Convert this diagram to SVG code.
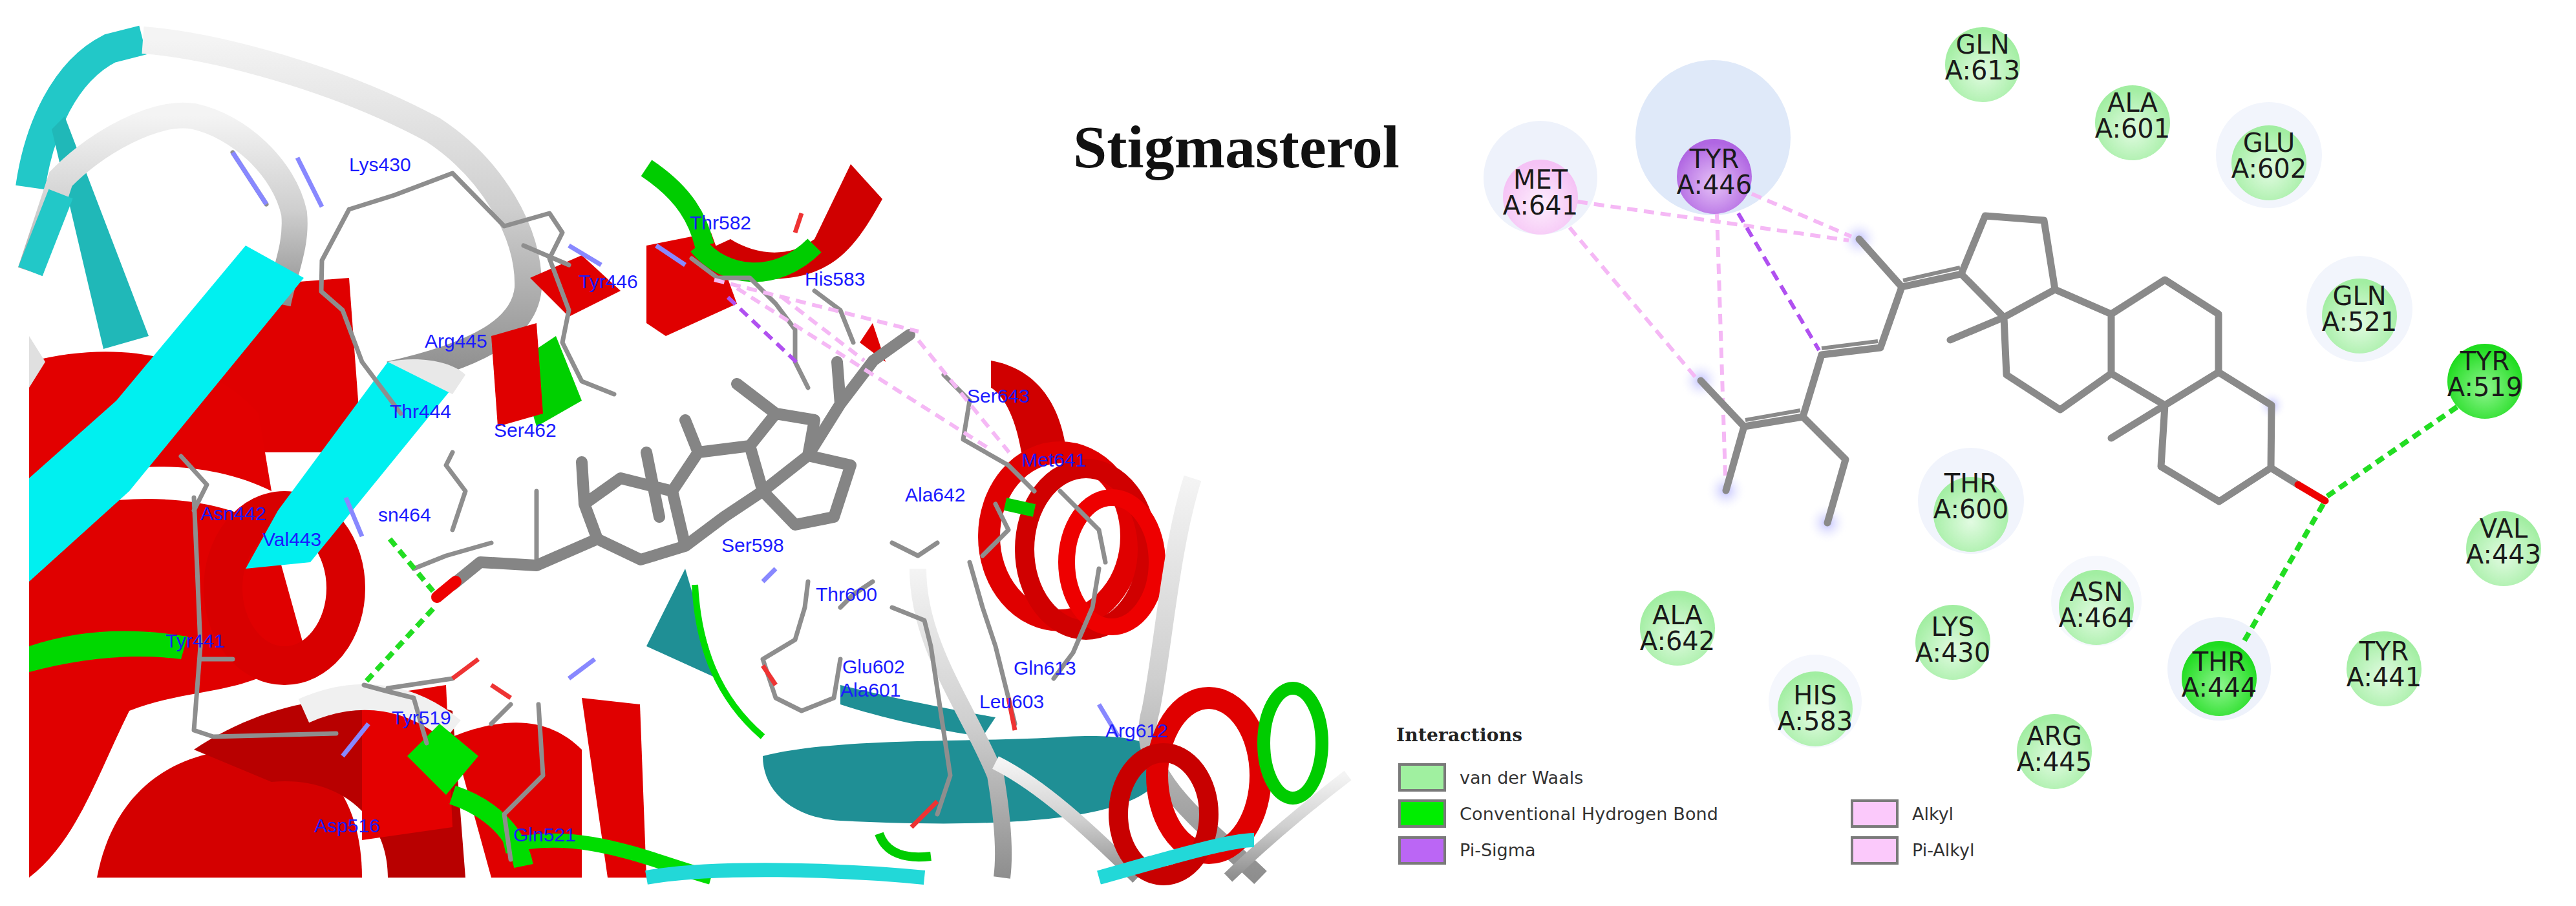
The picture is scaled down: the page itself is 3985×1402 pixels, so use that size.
<svg xmlns="http://www.w3.org/2000/svg" width="3985" height="1402" viewBox="0 0 3985 1402">
<defs>
<radialGradient id="gv" cx="50%" cy="60%" r="55%"><stop offset="0" stop-color="#e2fbe2"/><stop offset="1" stop-color="#a2eea2"/></radialGradient>
<radialGradient id="gh" cx="50%" cy="60%" r="55%"><stop offset="0" stop-color="#8ff58f"/><stop offset="1" stop-color="#1fdc1f"/></radialGradient>
<radialGradient id="gp" cx="50%" cy="60%" r="55%"><stop offset="0" stop-color="#e6c2f7"/><stop offset="1" stop-color="#b066e2"/></radialGradient>
<radialGradient id="gk" cx="50%" cy="60%" r="55%"><stop offset="0" stop-color="#fdeefd"/><stop offset="1" stop-color="#f5c2f5"/></radialGradient>
<radialGradient id="glow"><stop offset="0" stop-color="#b8b8ff" stop-opacity="0.9"/><stop offset="1" stop-color="#ffffff" stop-opacity="0"/></radialGradient>
<linearGradient id="wt" x1="0" y1="0" x2="0" y2="1"><stop offset="0" stop-color="#f4f4f4"/><stop offset="0.5" stop-color="#cfcfcf"/><stop offset="1" stop-color="#8e8e8e"/></linearGradient>
<style>
.res text{font-family:"DejaVu Sans",Verdana,sans-serif;font-size:40px;fill:#1a1a1a;text-anchor:middle}
.lab{font-family:"Liberation Sans",Arial,sans-serif;font-size:30px;fill:#1a1aff}
.bond{stroke:#8a8a8a;stroke-width:11;stroke-linecap:round;stroke-linejoin:round;fill:none}
.stk{stroke:#858585;stroke-width:18;stroke-linecap:round;stroke-linejoin:round;fill:none}
.thin{stroke:#8e8e8e;stroke-width:7;stroke-linecap:round;stroke-linejoin:round;fill:none}
.cy{fill:#00f0f0}
.alk{stroke:#f5b8f5;stroke-width:6;stroke-dasharray:16 10;fill:none}
.pis{stroke:#b050f0;stroke-width:6;stroke-dasharray:16 10;fill:none}
.hb{stroke:#22dd22;stroke-width:8;stroke-dasharray:14 9;fill:none}
.leg{font-family:"DejaVu Sans",Tahoma,sans-serif;font-size:27px;fill:#333}
.sw{stroke:#7a7a7a;stroke-width:4}
</style>
</defs>
<rect width="3985" height="1402" fill="#ffffff"/>

<g id="protein-3d">
<path d="M335,446 L540,430 L560,700 L330,700 Z" fill="#e00000"/>
<path d="M45,560 C200,520 330,560 400,640 L420,760 C300,700 150,720 45,760 Z" fill="#e20000"/>
<path d="M45,800 C180,760 330,760 420,820 L470,1000 C400,1080 300,1060 200,1100 C150,1200 120,1300 45,1358 Z" fill="#e00000"/>
<ellipse cx="440" cy="910" rx="95" ry="120" fill="none" stroke="#d80000" stroke-width="60"/>
<path d="M150,1358 C180,1200 300,1150 420,1160 C520,1170 560,1260 560,1358 Z" fill="#d40000"/>
<path d="M300,1160 C420,1080 560,1060 700,1100 L720,1358 L600,1358 C600,1260 520,1200 420,1210 Z" fill="#b80000"/>
<path d="M560,1080 L690,1060 L700,1280 L560,1300 Z" fill="#e40000"/>
<path d="M700,1140 C800,1100 860,1120 900,1160 L900,1358 L760,1358 Z" fill="#e00000"/>
<path d="M900,1080 L990,1090 L1000,1358 L940,1358 Z" fill="#e00000"/>
<path d="M470,1100 C560,1060 640,1080 700,1130" stroke="#f0f0f0" stroke-width="40" fill="none"/>
<path d="M630,1170 L690,1230 L740,1170 L680,1120 Z" fill="#00e000"/>
<path d="M700,1230 C760,1250 800,1290 810,1340" stroke="#00dd00" stroke-width="30" fill="none"/>
<path d="M45,1000 C120,975 200,970 290,985 L280,1020 C200,1010 120,1020 45,1040 Z" fill="#00d800"/>
<path d="M780,1310 C900,1280 1000,1330 1100,1358" stroke="#00dd00" stroke-width="22" fill="none"/>
<path d="M47,290 C60,200 100,110 170,75 L221,62" stroke="#22c8c8" stroke-width="46" fill="none"/>
<path d="M100,180 L80,200 L160,540 L230,520 Z" fill="#20b8b8"/>
<path d="M221,62 C330,70 520,120 670,201 C760,260 820,360 817,446 C812,500 760,545 603,580" stroke="url(#wt)" stroke-width="42" fill="none"/>
<path d="M47,420 L94,277 C150,220 240,170 300,180 C370,195 440,260 455,330 C460,380 440,420 430,470" stroke="url(#wt)" stroke-width="40" fill="none"/>
<path d="M47,420 L94,300" stroke="#22c8c8" stroke-width="40"/>
<path d="M380,380 L470,430 L200,760 L45,900 L45,740 L180,620 Z" class="cy"/>
<path d="M600,560 L700,600 L480,870 L380,880 L430,790 Z" class="cy"/>
<path d="M45,600 L70,560 L45,520 Z" fill="#e0e0e0"/>
<path d="M600,560 C650,550 700,560 720,580 L700,610 Z" fill="#e8e8e8"/>
<path d="M1000,380 L1100,360 L1140,470 L1030,520 L1000,500 Z" fill="#e00000"/>
<path d="M1316,254 L1365,308 C1330,370 1300,420 1220,430 C1160,438 1120,420 1091,388 L1130,370 C1170,395 1220,400 1260,370 Z" fill="#d00000"/>
<path d="M1080,380 C1120,430 1200,440 1260,380" stroke="#00cc00" stroke-width="30" fill="none"/>
<path d="M1000,260 C1060,300 1080,340 1090,380" stroke="#00cc00" stroke-width="30" fill="none"/>
<path d="M820,430 L900,395 L960,450 L880,490 Z" fill="#e00000"/>
<path d="M800,560 L860,520 L900,620 L830,660 Z" fill="#00d000"/>
<path d="M760,520 L830,500 L840,640 L770,660 Z" fill="#e00000"/>
<path d="M1533,558 C1600,570 1640,620 1650,700 L1580,700 C1570,640 1550,610 1533,600 Z" fill="#d00000"/>
<path d="M1330,530 L1350,500 L1370,560 Z" fill="#e00000"/>
<ellipse cx="1640" cy="830" rx="110" ry="130" fill="none" stroke="#e00000" stroke-width="34"/>
<ellipse cx="1680" cy="850" rx="95" ry="125" fill="none" stroke="#d00000" stroke-width="30"/>
<ellipse cx="1720" cy="870" rx="70" ry="100" fill="none" stroke="#ee0000" stroke-width="26"/>
<path d="M1555,780 L1600,790" stroke="#00cc00" stroke-width="20"/>
<path d="M1180,1170 C1300,1140 1500,1150 1650,1140 C1760,1135 1800,1150 1800,1190 C1780,1280 1500,1280 1300,1270 C1220,1265 1180,1220 1180,1170 Z" fill="#1f8f95"/>
<path d="M1300,1060 C1380,1080 1480,1100 1540,1110 L1520,1140 C1450,1130 1360,1110 1300,1090 Z" fill="#1f8f95"/>
<path d="M1000,1000 L1060,880 L1110,1050 Z" fill="#1f8f95"/>
<path d="M1075,905 C1080,1000 1110,1080 1180,1140" stroke="#00dd00" stroke-width="10" fill="none"/>
<path d="M1845,740 C1810,850 1800,1000 1780,1100 C1750,1200 1870,1280 1950,1358" stroke="url(#wt)" stroke-width="28" fill="none"/>
<path d="M1420,880 C1420,1000 1500,1100 1540,1200 C1550,1260 1555,1320 1550,1358" stroke="url(#wt)" stroke-width="26" fill="none"/>
<path d="M1540,1180 C1620,1220 1700,1300 1760,1358" stroke="url(#wt)" stroke-width="22" fill="none"/>
<ellipse cx="1870" cy="1200" rx="80" ry="120" fill="none" stroke="#e00000" stroke-width="34"/>
<ellipse cx="1800" cy="1260" rx="70" ry="95" fill="none" stroke="#c80000" stroke-width="30"/>
<ellipse cx="2000" cy="1150" rx="45" ry="85" fill="none" stroke="#00cc00" stroke-width="20"/>
<path d="M1900,1358 C1960,1300 2020,1250 2085,1200" stroke="url(#wt)" stroke-width="18" fill="none"/>
<path d="M1700,1358 C1800,1330 1900,1300 1940,1300" stroke="#22d8d8" stroke-width="22" fill="none"/>
<path d="M1000,1358 C1100,1340 1300,1345 1430,1358" stroke="#22d8d8" stroke-width="22" fill="none"/>
<path d="M1360,1290 C1370,1320 1400,1330 1440,1325" stroke="#00cc00" stroke-width="14" fill="none"/>
<path class="thin" d="M360,236 L412,316 M540,324 L498,403 L497,451 L530,480 L560,560 L590,600 L620,640 M540,324 L610,302 L700,268 L780,350 L850,330 L870,360 L850,400 L880,480 L870,530 L900,590 L950,610 M810,380 L880,410"/>
<path d="M360,236 L412,316" stroke="#8888ff" stroke-width="7"/>
<path d="M460,244 L498,320" stroke="#8888ff" stroke-width="7"/>
<path d="M880,380 L930,410" stroke="#8888ff" stroke-width="7"/>
<path class="thin" d="M280,706 L320,750 L300,790 M300,770 L305,880 L310,1000 L300,1130 L330,1140 L520,1135 M310,1020 L360,1020"/>
<path class="thin" d="M563,1060 L600,1070 L640,1080 L660,1150 M600,1065 L700,1050 M833,1090 L840,1200 L780,1260 L790,1330 M760,1120 L790,1090"/>
<path d="M530,1170 L570,1120" stroke="#8888ff" stroke-width="7"/>
<path d="M880,1050 L920,1020" stroke="#8888ff" stroke-width="7"/>
<path d="M700,1050 L740,1020" stroke="#ee3333" stroke-width="7"/>
<path d="M790,1080 L760,1060" stroke="#ee3333" stroke-width="7"/>
<path class="thin" d="M640,880 L690,860 L760,840 M700,820 L720,760 L690,720 L700,700 M830,760 L830,870"/>
<path d="M535,770 L560,830" stroke="#8888ff" stroke-width="7"/>
<path class="thin" d="M1070,400 L1110,430 L1160,430 L1200,470 L1230,510 L1230,560 L1250,600 M1260,450 L1300,480 L1320,530"/>
<path d="M1015,380 L1060,410" stroke="#8888ff" stroke-width="7"/>
<path d="M1240,330 L1230,360" stroke="#ee3333" stroke-width="7"/>
<path class="thin" d="M1460,580 L1500,620 L1490,680 L1560,720 L1600,760 M1540,780 L1560,820 L1520,860 M1640,760 L1700,820 L1710,870 M1380,840 L1420,860 L1450,840 M1500,870 L1520,940 L1540,1000 L1560,1080 L1570,1120 M1630,1050 L1660,1010 L1690,940 L1700,880"/>
<path class="thin" d="M1250,900 L1245,940 L1230,990 L1180,1020 L1200,1080 L1240,1100 L1290,1080 L1300,1020 M1300,940 L1320,920 L1350,900 M1380,940 L1430,960 L1440,1000 L1470,1200 L1450,1260"/>
<path d="M1180,1030 L1200,1060" stroke="#ee3333" stroke-width="7"/>
<path d="M1450,1240 L1410,1280" stroke="#ee3333" stroke-width="7"/>
<path d="M1560,1080 L1570,1130" stroke="#ee3333" stroke-width="7"/>
<path d="M1700,1090 L1730,1140" stroke="#8888ff" stroke-width="7"/>
<path d="M1180,900 L1200,880" stroke="#8888ff" stroke-width="7"/>
<path class="stk" d="M700,905 L743,870 L830,875 L924,834 L991,866 L1060,845 L1120,800 L1180,760 L1250,705 L1300,625 L1351,558 L1407,518 M924,834 L904,780 L960,740 L1040,760 L1060,845 M1040,760 L1080,700 L1160,690 L1180,760 M1160,690 L1200,640 L1260,650 L1250,705 M904,780 L900,715 M1200,640 L1140,594 M1300,625 L1295,560 M1250,705 L1316,720 L1290,800 L1230,812 L1180,760 M1080,700 L1060,650 M1000,700 L1020,800"/>
<path d="M676,924 L705,900" stroke="#ee0000" stroke-width="18" stroke-linecap="round"/>
<path class="alk" d="M1105,433 L1421,513 M1140,446 L1533,696 M1210,460 L1337,558 M1421,527 L1561,700"/>
<path class="pis" d="M1126,460 L1239,567"/>
<path class="hb" d="M603,834 L670,915 M670,942 L563,1058"/>
</g>

<g id="labels-3d">
<text class="lab" x="540" y="265">Lys430</text>
<text class="lab" x="895" y="446">Tyr446</text>
<text class="lab" x="657" y="538">Arg445</text>
<text class="lab" x="603" y="647">Thr444</text>
<text class="lab" x="764" y="676">Ser462</text>
<text class="lab" x="1067" y="355">Thr582</text>
<text class="lab" x="1245" y="442">His583</text>
<text class="lab" x="1496" y="623">Ser643</text>
<text class="lab" x="1580" y="722">Met641</text>
<text class="lab" x="1400" y="776">Ala642</text>
<text class="lab" x="310" y="805">Asn442</text>
<text class="lab" x="406" y="845">Val443</text>
<text class="lab" x="585" y="807">sn464</text>
<text class="lab" x="256" y="1002">Tyr441</text>
<text class="lab" x="606" y="1121">Tyr519</text>
<text class="lab" x="486" y="1288">Asp516</text>
<text class="lab" x="794" y="1302">Gln521</text>
<text class="lab" x="1116" y="854">Ser598</text>
<text class="lab" x="1262" y="930">Thr600</text>
<text class="lab" x="1303" y="1042">Glu602</text>
<text class="lab" x="1300" y="1078">Ala601</text>
<text class="lab" x="1515" y="1096">Leu603</text>
<text class="lab" x="1568" y="1044">Gln613</text>
<text class="lab" x="1710" y="1141">Arg612</text>
</g>

<g id="title"><text x="1660" y="259" font-family="'Liberation Serif','Times New Roman',serif" font-weight="bold" font-size="94" fill="#111">Stigmasterol</text></g>

<g id="halos">
<circle cx="2383" cy="275" r="88" fill="#eef2fb"/>
<circle cx="2650" cy="213" r="120" fill="#dfe9f9"/>
<circle cx="3510" cy="240" r="82" fill="#f2f5fc"/>
<circle cx="3650" cy="478" r="82" fill="#f2f5fc"/>
<circle cx="3049" cy="775" r="82" fill="#f1f4fc"/>
<circle cx="3433" cy="1035" r="80" fill="#eef2fb"/>
<circle cx="2808" cy="1085" r="72" fill="#f5f7fd"/>
<circle cx="3243" cy="930" r="70" fill="#f6f8fd"/>
<circle cx="2876" cy="370" r="32" fill="url(#glow)"/>
<circle cx="2631" cy="589" r="32" fill="url(#glow)"/>
<circle cx="2670" cy="759" r="32" fill="url(#glow)"/>
<circle cx="2827" cy="809" r="32" fill="url(#glow)"/>
<circle cx="3514" cy="627" r="24" fill="url(#glow)"/>
</g>

<g id="connectors">
<path class="alk" d="M2440,312 L2860,372"/>
<path class="alk" d="M2428,352 L2623,584"/>
<path class="alk" d="M2656,330 L2669,736"/>
<path class="alk" stroke-dasharray="8 8" d="M2710,300 L2864,366"/>
<path class="pis" d="M2689,330 L2814,542"/>
<path class="hb" d="M3600,768 L3815,620"/>
<path class="hb" d="M3594,780 L3470,995"/>
</g>

<g id="ligand">
<path class="bond" d="M2876,370 L2942,444 L3034,424 L3071,334 L3162,341 L3179,448 L3100,491 L3034,424 M3100,491 L3017,526 M3179,448 L3266,486 L3266,578 L3187,634 L3104,580 L3100,491 M3266,486 L3349,433 L3432,486 L3432,576 L3349,627 L3266,578 M3349,627 L3266,678 M3432,576 L3514,627 L3513,724 L3433,776 L3343,722 L3349,627 M2942,444 L2909,538 L2818,549 L2789,645 L2698,660 L2631,589 M2698,660 L2670,759 M2789,645 L2855,711 L2827,809"/>
<path d="M2944,434 L3032,414 M2818,539 L2905,528 M2700,650 L2785,635" stroke="#8a8a8a" stroke-width="6" fill="none"/>
<path d="M3513,724 L3555,750" stroke="#8a8a8a" stroke-width="11" stroke-linecap="round"/>
<path d="M3555,750 L3597,775" stroke="#ee0000" stroke-width="11" stroke-linecap="round"/>
</g>

<g id="MET641" class="res"><circle cx="2383" cy="305" r="58" fill="url(#gk)"/><text x="2383" y="292">MET</text><text x="2383" y="332">A:641</text></g>
<g id="TYR446" class="res"><circle cx="2652" cy="273" r="58" fill="url(#gp)"/><text x="2652" y="260">TYR</text><text x="2652" y="300">A:446</text></g>
<g id="GLN613" class="res"><circle cx="3067" cy="100" r="58" fill="url(#gv)"/><text x="3067" y="83">GLN</text><text x="3067" y="123">A:613</text></g>
<g id="ALA601" class="res"><circle cx="3299" cy="190" r="58" fill="url(#gv)"/><text x="3299" y="173">ALA</text><text x="3299" y="213">A:601</text></g>
<g id="GLU602" class="res"><circle cx="3510" cy="252" r="58" fill="url(#gv)"/><text x="3510" y="235">GLU</text><text x="3510" y="275">A:602</text></g>
<g id="GLN521" class="res"><circle cx="3650" cy="489" r="58" fill="url(#gv)"/><text x="3650" y="472">GLN</text><text x="3650" y="512">A:521</text></g>
<g id="TYR519" class="res"><circle cx="3844" cy="590" r="58" fill="url(#gh)"/><text x="3844" y="573">TYR</text><text x="3844" y="613">A:519</text></g>
<g id="THR600" class="res"><circle cx="3049" cy="796" r="58" fill="url(#gv)"/><text x="3049" y="762">THR</text><text x="3049" y="802">A:600</text></g>
<g id="VAL443" class="res"><circle cx="3873" cy="849" r="58" fill="url(#gv)"/><text x="3873" y="832">VAL</text><text x="3873" y="872">A:443</text></g>
<g id="ALA642" class="res"><circle cx="2595" cy="972" r="58" fill="url(#gv)"/><text x="2595" y="966">ALA</text><text x="2595" y="1006">A:642</text></g>
<g id="ASN464" class="res"><circle cx="3243" cy="940" r="58" fill="url(#gv)"/><text x="3243" y="930">ASN</text><text x="3243" y="970">A:464</text></g>
<g id="LYS430" class="res"><circle cx="3021" cy="994" r="58" fill="url(#gv)"/><text x="3021" y="984">LYS</text><text x="3021" y="1024">A:430</text></g>
<g id="HIS583" class="res"><circle cx="2808" cy="1097" r="58" fill="url(#gv)"/><text x="2808" y="1090">HIS</text><text x="2808" y="1130">A:583</text></g>
<g id="THR444" class="res"><circle cx="3433" cy="1050" r="58" fill="url(#gh)"/><text x="3433" y="1038">THR</text><text x="3433" y="1078">A:444</text></g>
<g id="TYR441" class="res"><circle cx="3688" cy="1035" r="58" fill="url(#gv)"/><text x="3688" y="1022">TYR</text><text x="3688" y="1062">A:441</text></g>
<g id="ARG445" class="res"><circle cx="3178" cy="1163" r="58" fill="url(#gv)"/><text x="3178" y="1153">ARG</text><text x="3178" y="1193">A:445</text></g>

<g id="legend">
<text x="2160" y="1147" font-family="'DejaVu Serif',Tahoma,serif" font-weight="bold" font-size="28" fill="#222" textLength="195">Interactions</text>
<rect class="sw" x="2165" y="1183" width="70" height="40" fill="#a0f0a0"/>
<rect class="sw" x="2165" y="1239" width="70" height="40" fill="#00ee00"/>
<rect class="sw" x="2165" y="1296" width="70" height="40" fill="#bb66f5"/>
<text class="leg" x="2258" y="1213">van der Waals</text>
<text class="leg" x="2258" y="1269" textLength="400">Conventional Hydrogen Bond</text>
<text class="leg" x="2258" y="1325">Pi-Sigma</text>
<rect class="sw" x="2865" y="1239" width="70" height="40" fill="#fbc9fb"/>
<rect class="sw" x="2865" y="1296" width="70" height="40" fill="#fbc9fb"/>
<text class="leg" x="2958" y="1269">Alkyl</text>
<text class="leg" x="2958" y="1325">Pi-Alkyl</text>
</g>
</svg>
